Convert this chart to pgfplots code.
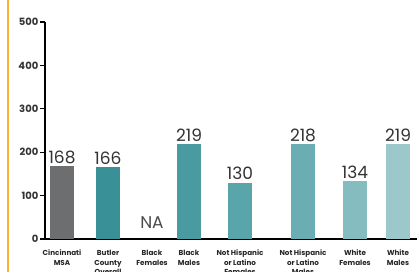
\documentclass[border=0pt]{standalone}
\usepackage{pgfplots}
\pgfplotsset{compat=1.18}
\usepackage{fontspec}
\setmainfont{Poppins}
\definecolor{cgray}{HTML}{6D6E70}
\definecolor{c1}{HTML}{3A9097}
\definecolor{c2}{HTML}{4A9BA1}
\definecolor{c3}{HTML}{5AA5AA}
\definecolor{c4}{HTML}{6AADB2}
\definecolor{c5}{HTML}{85BCC0}
\definecolor{c6}{HTML}{9CC7CB}
\definecolor{corange}{HTML}{F9B233}
\begin{document}
\begin{tikzpicture}[x=1pt,y=1pt]
\useasboundingbox (0,0) rectangle (417,272);
\fill[white] (0,0) rectangle (417,272);
\draw[corange, line width=2pt] (8,0) -- (8,272);
\begin{axis}[
  at={(45pt,33pt)}, anchor=south west,
  scale only axis, width=372pt, height=217pt,
  xmin=45, xmax=417, ymin=0, ymax=500,
  axis lines*=left,
  axis line style={black, line width=1.2pt},
  ybar, bar width=24, bar shift=0pt,
  ytick={0,100,200,300,400,500},
  tick align=outside, major tick length=5pt,
  ytick style={black, line width=1.2pt},
  yticklabel style={font=\fontsize{10}{11}\selectfont\bfseries, text=black!80, inner sep=1.5pt},
  /pgf/number format/assume math mode=true,
  xtick={62,108,152,189,240,303,355,398},
  xticklabels={Cincinnati\\MSA, Butler\\County\\Overall, Black\\Females, Black\\Males, Not Hispanic\\or Latino\\Females, Not Hispanic\\or Latino\\Males, White\\Females, White\\Males},
  xticklabel style={font=\fontsize{7.2}{9.5}\selectfont\bfseries, text=black!85, align=center, anchor=north, inner sep=0pt, yshift=-6pt},
  xtick style={draw=none},
  clip=false,
  point meta=explicit symbolic,
  nodes near coords,
  every node near coord/.append style={font=\fontsize{17}{18}\selectfont, text=black!80, inner sep=2.5pt, anchor=south},
  every axis plot/.append style={draw=none},
]
\addplot[fill=cgray] coordinates {(62,168) [168]};
\addplot[fill=c1] coordinates {(108,166) [166]};
\addplot[fill=none, every node near coord/.append style={yshift=8pt, text=black!70}] coordinates {(152,0) [NA]};
\addplot[fill=c2] coordinates {(189,219) [219]};
\addplot[fill=c3] coordinates {(240,130) [130]};
\addplot[fill=c4] coordinates {(303,218) [218]};
\addplot[fill=c5] coordinates {(355,134) [134]};
\addplot[fill=c6] coordinates {(398,219) [219]};
\end{axis}
\end{tikzpicture}
\end{document}
